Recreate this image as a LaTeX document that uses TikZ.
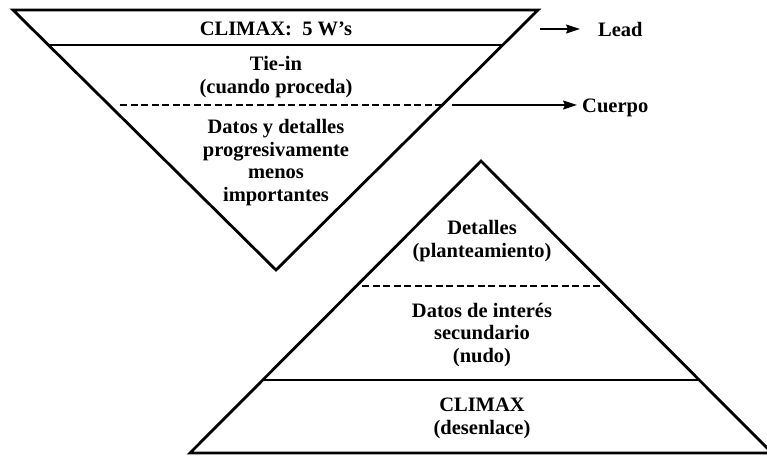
\documentclass[tikz,border=0pt]{standalone}
\usepackage{fontspec}
\setmainfont{Liberation Serif}
\usetikzlibrary{arrows.meta}
\begin{document}
\begin{tikzpicture}[x=1pt,y=-1pt,
  edge/.style={line width=2.8pt, line join=miter},
  bandline/.style={line width=2.8pt},
  dashline/.style={line width=2.2pt, dash pattern=on 7pt off 3.5pt},
  arr/.style={line width=1.4pt, -{Stealth[length=14pt,width=9pt,inset=2pt]}},
  lbl/.style={font=\fontsize{20.5}{22.5}\selectfont\bfseries, align=center, inner sep=0pt},
]
\useasboundingbox (0,0) rectangle (767,458);
% inverted pyramid
\coordinate (tl) at (13,10);
\coordinate (tr) at (538,10);
\coordinate (ta) at (276,270);
\draw[edge] (tl) -- (tr) -- (ta) -- cycle;
\coordinate (b1l) at (48.3,45);
\coordinate (b1r) at (502.7,45);
\draw[bandline] (b1l) -- (b1r);
\coordinate (d1l) at (120,105);
\coordinate (d1r) at (442,105);
\draw[dashline] (d1l) -- (d1r);
% upright pyramid
\coordinate (ba) at (481,161);
\coordinate (bl) at (190,453);
\coordinate (br) at (772,453);
\draw[edge] (ba) -- (br) -- (bl) -- cycle;
\coordinate (b2l) at (262.7,380);
\coordinate (b2r) at (699.3,380);
\draw[bandline] (b2l) -- (b2r);
\coordinate (d2l) at (362,286);
\coordinate (d2r) at (600,286);
\draw[dashline] (d2l) -- (d2r);
% texts, inverted pyramid (base = baseline of last line)
\node[lbl, anchor=base] (climaxw) at (276,35) {CLIMAX:\ \ 5 W's};
\node[lbl, anchor=base] (tiein) at (276,93) {Tie-in\\(cuando proceda)};
\node[lbl, anchor=base] (datos) at (276,201) {Datos y detalles\\progresivamente\\menos\\importantes};
% texts, upright pyramid
\node[lbl, anchor=base] (detalles) at (482,257) {Detalles\\(planteamiento)};
\node[lbl, anchor=base] (interes) at (482,362) {Datos de interés\\secundario\\(nudo)};
\node[lbl, anchor=base] (climax) at (482,434) {CLIMAX\\(desenlace)};
% side labels
\node[lbl, anchor=base west] (lead) at (598,36) {Lead};
\node[lbl, anchor=base west] (cuerpo) at (582,112) {Cuerpo};
\coordinate (leadfrom) at (540,29);
\coordinate (cuerpofrom) at (452,105);
\draw[arr] (leadfrom) -- ([xshift=-18pt]leadfrom -| lead.west);
\draw[arr] (cuerpofrom) -- ([xshift=-5pt]cuerpofrom -| cuerpo.west);
\end{tikzpicture}
\end{document}
